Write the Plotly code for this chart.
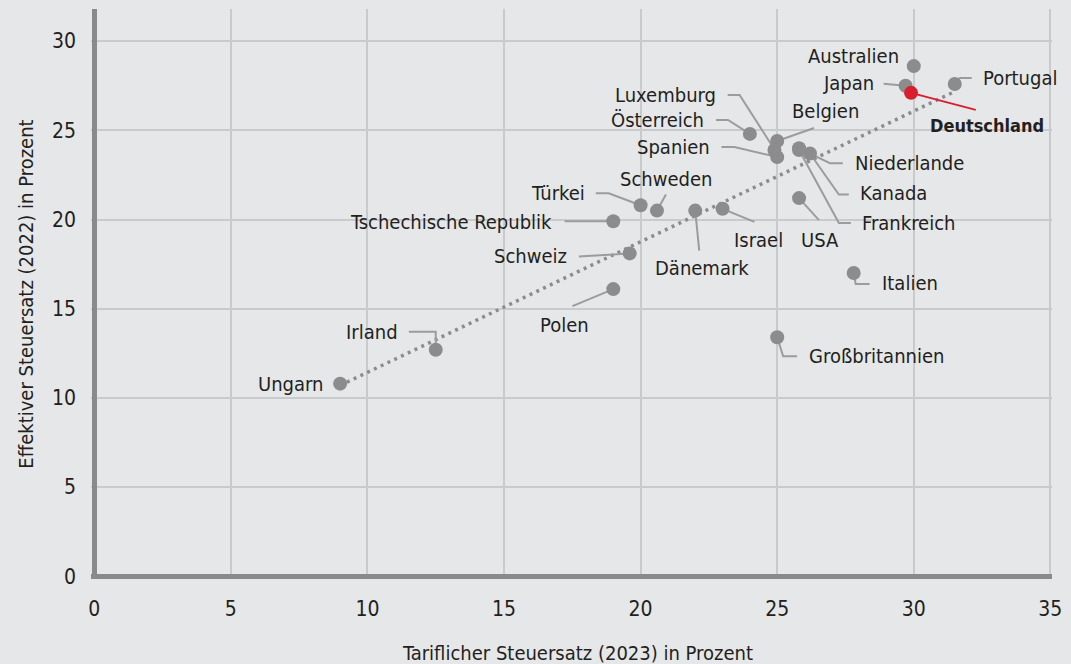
import plotly.graph_objects as go

# ---- data ----
countries = ["Australien", "Japan", "Portugal", "Belgien", "Luxemburg", "Österreich",
             "Spanien", "Niederlande", "Kanada", "Frankreich", "USA", "Israel",
             "Dänemark", "Schweden", "Türkei", "Tschechische Republik", "Schweiz",
             "Polen", "Irland", "Ungarn", "Italien", "Großbritannien", "Deutschland"]
tarif = [30.0, 29.7, 31.5, 25.0, 24.9, 24.0, 25.0, 25.8, 26.2, 25.8, 25.8, 23.0,
         22.0, 20.6, 20.0, 19.0, 19.6, 19.0, 12.5, 9.0, 27.8, 25.0, 29.9]
effektiv = [28.6, 27.5, 27.6, 24.4, 23.9, 24.8, 23.5, 24.0, 23.7, 23.9, 21.2, 20.6,
            20.5, 20.5, 20.8, 19.9, 18.1, 16.1, 12.7, 10.8, 17.0, 13.4, 27.1]
trend_x = [9.0, 31.4]
trend_y = [10.7, 27.1]
x_ticks = [0, 5, 10, 15, 20, 25, 30, 35]
y_ticks = [0, 5, 10, 15, 20, 25, 30]
highlight = "Deutschland"

# ---- label placement (pixel offsets from the point) ----
# name: (dx, dy, xanchor, leader polyline [(dx,dy), ...])  dy positive = down
label_pos = {
    "Australien": (-13, -10, "right", []),
    "Japan": (-30, -3, "right", [(-22, -2), (0, 0)]),
    "Portugal": (26, -6, "left", [(0, 0), (5, -6), (17, -6)]),
    "Deutschland": (17, 33, "left", [(0, 0), (65, 17)]),
    "Belgien": (13, -30, "left", [(0, 0), (37, -13)]),
    "Luxemburg": (-56, -55, "right", [(-47, -55), (-35, -55), (-1, -2)]),
    "Österreich": (-44, -14, "right", [(-34, -14), (-22, -14), (0, 0)]),
    "Spanien": (-65, -10, "right", [(-56, -10), (-43, -10), (0, 0)]),
    "Niederlande": (54, 15, "left", [(0, 0), (31, 15), (44, 15)]),
    "Kanada": (48, 39, "left", [(0, 0), (29, 41), (39, 41)]),
    "Frankreich": (61, 73, "left", [(0, 0), (40, 73), (52, 73)]),
    "USA": (21, 42, "center", [(0, 0), (20, 22)]),
    "Israel": (36, 31, "center", [(0, 0), (32, 13)]),
    "Dänemark": (7, 57, "center", [(0, 0), (4, 40)]),
    "Schweden": (9, -32, "center", [(0, 0), (9, -16)]),
    "Türkei": (-54, -12, "right", [(-45, -12), (-32, -12), (0, 0)]),
    "Tschechische Republik": (-59, 1, "right", [(-49, 0), (0, 0)]),
    "Schweiz": (-61, 3, "right", [(-51, 3), (0, 0)]),
    "Polen": (-49, 36, "center", [(-41, 17), (0, 0)]),
    "Irland": (-36, -18, "right", [(-27, -18), (0, -18), (0, 0)]),
    "Ungarn": (-15, 0, "right", []),
    "Italien": (26, 10, "left", [(0, 0), (2, 11), (16, 11)]),
    "Großbritannien": (30, 19, "left", [(0, 0), (6, 19), (20, 19)]),
}

W, H = 1071, 664
M = dict(l=91, r=15, t=9, b=85)
XR = [-0.12, 35.06]
YR = [-0.15, 31.8]
PXX = (W - M["l"] - M["r"]) / (XR[1] - XR[0])
PXY = (H - M["t"] - M["b"]) / (YR[1] - YR[0])

BG = "#e6e7e9"
GRID = "#c9cacc"
AXIS = "#8a8a8c"
DOT = "#8c8c8e"
RED = "#d71f2e"
LEAD = "#9c9c9e"
TXT = "#231f20"
FONT = "Liberation Sans Narrow, DejaVu Sans Condensed, Open Sans, sans-serif"
FS = 20
FT = 21

fig = go.Figure()

# trend line
fig.add_trace(go.Scatter(x=trend_x, y=trend_y, mode="lines",
                         line=dict(color="#8c8c8e", width=3.5, dash="3px,4.5px"),
                         hoverinfo="skip", showlegend=False))

# leader lines
lx, ly, rx, ry = [], [], [], []
for name, x0, y0 in zip(countries, tarif, effektiv):
    pts = label_pos[name][3]
    if not pts:
        continue
    xs = [x0 + dx / PXX for dx, dy in pts] + [None]
    ys = [y0 - dy / PXY for dx, dy in pts] + [None]
    if name == highlight:
        rx += xs; ry += ys
    else:
        lx += xs; ly += ys
fig.add_trace(go.Scatter(x=lx, y=ly, mode="lines", line=dict(color=LEAD, width=2),
                         hoverinfo="skip", showlegend=False))
fig.add_trace(go.Scatter(x=rx, y=ry, mode="lines", line=dict(color=RED, width=2),
                         hoverinfo="skip", showlegend=False))

# points
gx = [x for n, x in zip(countries, tarif) if n != highlight]
gy = [y for n, y in zip(countries, effektiv) if n != highlight]
gn = [n for n in countries if n != highlight]
fig.add_trace(go.Scatter(x=gx, y=gy, mode="markers", text=gn,
                         marker=dict(color=DOT, size=14, line=dict(width=0)),
                         showlegend=False))
hx = [x for n, x in zip(countries, tarif) if n == highlight]
hy = [y for n, y in zip(countries, effektiv) if n == highlight]
fig.add_trace(go.Scatter(x=hx, y=hy, mode="markers", text=[highlight],
                         marker=dict(color=RED, size=14, line=dict(width=0)),
                         showlegend=False))

# labels
for name, x0, y0 in zip(countries, tarif, effektiv):
    dx, dy, anchor, _ = label_pos[name]
    if name == highlight:
        txt, size = f"<b>{name}</b>", 18
    else:
        txt, size = name, FS
    fig.add_annotation(x=x0, y=y0, xref="x", yref="y", text=txt, showarrow=False,
                       xanchor=anchor, yanchor="middle", xshift=dx, yshift=-dy,
                       font=dict(family=FONT, size=size, color=TXT))

# x-axis title (placed slightly right of centre as in the original)
plot_w = W - M["l"] - M["r"]
plot_h = H - M["t"] - M["b"]
fig.add_annotation(text="Tariflicher Steuersatz (2023) in Prozent", xref="paper", yref="paper",
                   x=(580 - M["l"]) / plot_w, y=-(653 - (H - M["b"])) / plot_h,
                   xanchor="center", yanchor="middle", showarrow=False,
                   font=dict(family=FONT, size=FS, color=TXT))

fig.update_layout(
    width=W, height=H, margin=M,
    paper_bgcolor=BG, plot_bgcolor=BG,
    font=dict(family=FONT, size=FS, color=TXT),
    xaxis=dict(range=XR, tickvals=x_ticks, showgrid=True, gridcolor=GRID, gridwidth=2,
               zeroline=True, zerolinecolor=AXIS, zerolinewidth=5, showline=False,
               ticks="", ticklabelstandoff=15,
               tickfont=dict(family=FONT, size=FT, color=TXT)),
    yaxis=dict(range=YR, tickvals=y_ticks, showgrid=True, gridcolor=GRID, gridwidth=2,
               zeroline=True, zerolinecolor=AXIS, zerolinewidth=5, showline=False,
               ticks="", ticklabelstandoff=14,
               title=dict(text="Effektiver Steuersatz (2022) in Prozent", standoff=12,
                          font=dict(family=FONT, size=FS, color=TXT)),
               tickfont=dict(family=FONT, size=FT, color=TXT)),
)

fig.write_html("out.html", config={"displayModeBar": False},
               post_script="document.body.style.margin='0';"
                           "document.body.style.background='" + BG + "';")
